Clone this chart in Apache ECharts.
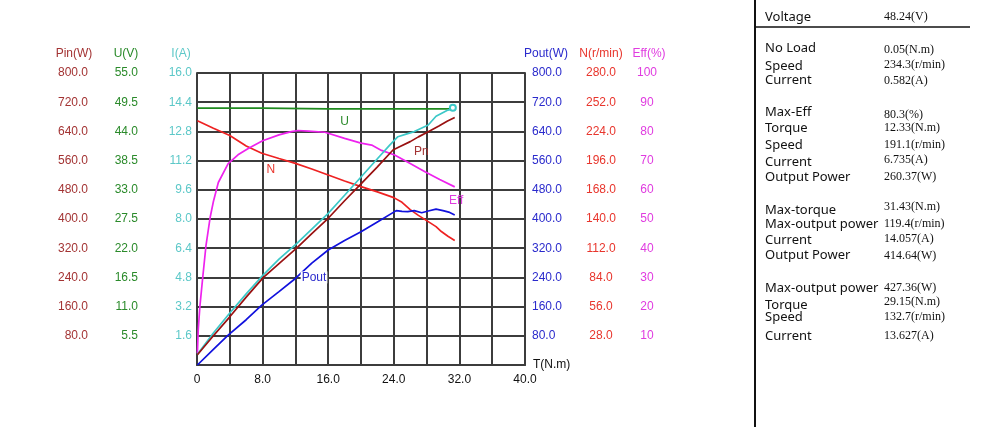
<!DOCTYPE html>
<html>
<head>
<meta charset="utf-8">
<script src="https://cdn.jsdelivr.net/npm/echarts@6/dist/echarts.min.js"></script>
<style>
html,body{margin:0;padding:0;background:#fff}
#main{width:1000px;height:427px}
</style>
</head>
<body>
<div id="main"></div>
<script>
// curves, torque T(N.m) on x
var tPin = [0.05,2,4,6,8.1,10,12.15,14,16,18,20,22,23.9,24.7,26,27,28.2,29.5,30.5,31.43];
var pin  = [28,80,132,186,240,278,320,360,402,450,496,543,589,598,612,625,639,655,668,678];

var tU = [0.05,8,8.1,16,24,31.43];
var u  = [48.4,48.4,48.24,48.24,48.24,48.24];

var tI  = [0.05,2,4,6,8,10,12.15,14,16,18,20,22,23.5,24.5,25.5,26.5,28.2,29.15,30.6,31.43];
var cur = [0.582,1.75,2.85,3.9,4.9,5.8,6.65,7.45,8.31,9.3,10.3,11.3,12.05,12.51,12.65,12.79,13.15,13.627,13.97,14.057];

var tPout = [0.05,2,3.8,6,7.9,10,12,14,16,18,20,22.1,24.3,25,25.7,26.5,27.4,28.2,29.15,30,30.7,31.43];
var pout  = [0,43,82,124,164,201,237,279,315,341,365,393,423,421,420,423,417,422,427,423,419,411];

var tN = [0.05,2,4,6,7.9,10,12,14,16,18,20,22,24,25,26,27,28.2,29.15,29.8,30.6,31.43];
var n  = [234.3,227,220,210,203,198,193.3,188,182.2,176.5,171,166,160.5,156,149,143.5,137.5,132.7,128,123.5,119.4];

var tEff = [0.05,0.15,0.35,0.7,1.1,1.6,2,2.6,3.8,5,6.3,8,10,11.5,12.33,13.6,15.6,18,20,21.3,22.5,24.1,26,27.8,29.6,31.43];
var eff  = [4,12,20,30,41,50.5,56,62.5,69,72,74.2,76.8,78.8,79.9,80.3,80.1,79.7,77.6,76,75.3,73.5,71.9,69,66.2,63.5,61];

// axis ranges: [max, interval]
var pinAxis = [800, 80];
var uAxis = [55, 5.5];
var iAxis = [16, 1.6];
var poutAxis = [800, 80];
var nAxis = [280, 28];
var effAxis = [100, 10];
var xAxisRange = [40, 4];

// right hand panel
var panelLabels = ['Voltage','No Load','Speed','Current','Max-Eff','Torque','Speed','Current','Output Power',
  'Max-torque','Max-output power','Current','Output Power','Max-output power','Torque','Speed','Current'];
var panelValues = ['48.24(V)','0.05(N.m)','234.3(r/min)','0.582(A)','80.3(%)','12.33(N.m)','191.1(r/min)','6.735(A)','260.37(W)',
  '31.43(N.m)','119.4(r/min)','14.057(A)','414.64(W)','427.36(W)','29.15(N.m)','132.7(r/min)','13.627(A)'];
var labelY = [17,48,66,80,112,128,145,162,177,210,224,240,255,288,305,317,336];
var valueY = [17,50,65,81,115,128,145,160,177,207,224,239,256,288,302,317,336];

var gridCol = '#3c3c3c';
var font = 'Liberation Sans, Arial, sans-serif';
var cPin = '#a33333', cU = '#2a8a2a', cI = '#5cc8c8', cPout = '#2a2acc', cN = '#e8352c', cEff = '#e03ce0';

function pairs(t, v){
  return t.map(function(x, i){ return [x, v[i]]; });
}

function yAx(pos, offset, range, color, align, margin, digits, main){
  return {
    type: 'value', position: pos, offset: offset, min: 0, max: range[0], interval: range[1],
    axisLine: {show: main, lineStyle: {color: gridCol, width: 2}},
    axisTick: {show: false},
    splitLine: {show: false},
    axisLabel: {
      show: true, showMinLabel: false, color: color, fontSize: 12, fontFamily: font,
      margin: margin, align: align,
      formatter: function(v){ return v.toFixed(digits); }
    }
  };
}

function tag(text, color, coord, bg){
  return {
    coord: coord, symbol: 'rect', symbolSize: 1,
    itemStyle: {color: 'rgba(0,0,0,0)'},
    label: {show: true, position: 'inside', formatter: text, color: color, fontSize: 12, fontFamily: font,
      backgroundColor: bg || 'transparent', padding: [0, 1]}
  };
}

function line(name, t, v, yi, color, marks){
  var s = {
    name: name, type: 'line', xAxisIndex: 0, yAxisIndex: yi,
    data: pairs(t, v), showSymbol: false, smooth: false,
    lineStyle: {color: color, width: 1.7}, itemStyle: {color: color}, z: 3
  };
  if (marks) s.markPoint = {silent: true, z: 10, data: marks};
  return s;
}

var yAxes = [
  yAx('left', 101, pinAxis, cPin, 'right', 8, 1, false),
  yAx('left', 51, uAxis, cU, 'right', 8, 1, false),
  yAx('left', 0, iAxis, cI, 'right', 5, 1, true),
  yAx('right', 0, poutAxis, cPout, 'left', 7, 1, true),
  yAx('right', 68, nAxis, cN, 'center', 8, 1, false),
  yAx('right', 114, effAxis, cEff, 'center', 8, 0, false)
];
yAxes[2].splitLine = {show: true, lineStyle: {color: gridCol, width: 2}};

var names = [
  ['Pin(W)', 74, cPin], ['U(V)', 126, cU], ['I(A)', 181, cI],
  ['Pout(W)', 546, cPout], ['N(r/min)', 601, cN], ['Eff(%)', 649, cEff]
];

var graphics = [];
names.forEach(function(d){
  graphics.push({type: 'text', x: d[1], y: 54, style: {text: d[0], fill: d[2], font: '12px ' + font, textAlign: 'center', textVerticalAlign: 'middle'}});
});
graphics.push({type: 'line', shape: {x1: 755, y1: 0, x2: 755, y2: 427}, style: {stroke: '#111', lineWidth: 2}});
graphics.push({type: 'line', shape: {x1: 755, y1: 27, x2: 970, y2: 27}, style: {stroke: '#111', lineWidth: 1.5}});
panelLabels.forEach(function(l, i){
  graphics.push({type: 'text', x: 765, y: labelY[i], style: {text: l, fill: '#111', font: '13px Noto Sans, sans-serif', textVerticalAlign: 'middle'}});
  graphics.push({type: 'text', x: 884, y: valueY[i], style: {text: panelValues[i], fill: '#111', font: '12px Liberation Serif, serif', textVerticalAlign: 'middle'}});
});

var myChart = echarts.init(document.getElementById('main'));
var option = {
  animation: false,
  backgroundColor: '#fff',
  grid: {left: 197, top: 73, width: 328, height: 292, containLabel: false},
  xAxis: {
    type: 'value', min: 0, max: xAxisRange[0], interval: xAxisRange[1],
    axisLine: {lineStyle: {color: gridCol, width: 2}},
    axisTick: {show: false},
    splitLine: {show: true, lineStyle: {color: gridCol, width: 2}},
    axisLabel: {
      margin: 9, color: '#111', fontSize: 12, fontFamily: font,
      formatter: function(v){ return v % 8 === 0 ? (v === 0 ? '0' : v.toFixed(1)) : ''; }
    },
    name: 'T(N.m)', nameLocation: 'end', nameGap: 8,
    nameTextStyle: {color: '#111', fontSize: 12, fontFamily: font}
  },
  yAxis: yAxes,
  series: [
    line('U', tU, u, 1, '#1f8a1f', [tag('U', cU, [18, 45.8])]),
    line('N', tN, n, 4, '#ee2222', [tag('N', cN, [9, 187])]),
    line('Eff', tEff, eff, 5, '#ee22ee', [tag('Eff', cEff, [31.6, 56.2])]),
    line('I', tI, cur, 2, '#3cc8c8', [{coord: [31.2, 14.1], symbol: 'emptyCircle', symbolSize: 6, itemStyle: {color: '#3cc8c8'}, label: {show: false}}]),
    line('Pin', tPin, pin, 0, '#991111', [tag('Pn', cPin, [27.35, 584])]),
    line('Pout', tPout, pout, 3, '#1111dd', [tag('Pout', cPout, [14.27, 240], '#fff')])
  ],
  graphic: graphics
};
myChart.setOption(option);
</script>
</body>
</html>
